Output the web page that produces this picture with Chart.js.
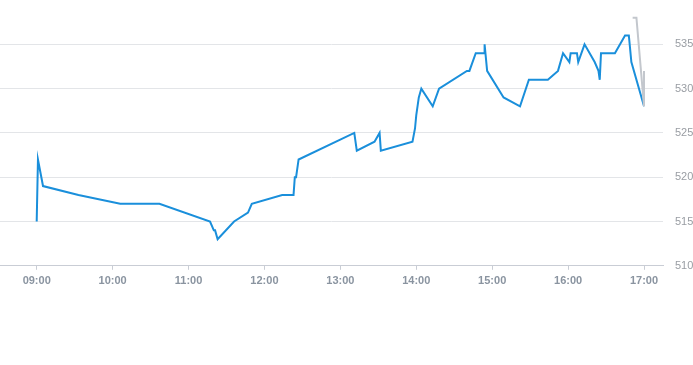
<!DOCTYPE html>
<html lang="en">

<head>
    <meta charset="UTF-8">
    <title>intraday</title>
    <style>
        body {
            margin: 0;
            background: #fff;
        }

        .myChart {
            position: relative;
            width: 693px;
            height: 300px;
        }
    </style>
</head>

<body>
    <div class="myChart">
        <canvas id="myChart"></canvas>
    </div>

    <script src="https://cdn.jsdelivr.net/npm/chart.js"></script>

    <script>
        // price series (time, price)
        const times = ['09:00', '09:01', '09:05', '09:33', '10:06', '10:37', '11:17', '11:20', '11:21', '11:23',
            '11:36', '11:47', '11:50', '12:14', '12:23', '12:24', '12:25', '12:27', '13:11', '13:13',
            '13:27', '13:31', '13:32', '13:57', '13:59', '14:00', '14:02', '14:04', '14:13', '14:18',
            '14:40', '14:42', '14:47', '14:54', '14:54', '14:56', '15:09', '15:22', '15:29', '15:44',
            '15:52', '15:56', '16:01', '16:02', '16:07', '16:08', '16:13', '16:21', '16:24', '16:25',
            '16:26', '16:37', '16:45', '16:48', '16:50', '17:00'];
        const prices = [515, 522, 519, 518, 517, 517, 515, 514, 514, 513,
            515, 516, 517, 518, 518, 520, 520, 522, 525, 523,
            524, 525, 523, 524, 525.5, 527, 529, 530, 528, 530,
            532, 532, 534, 534, 535, 532, 529, 528, 531, 531,
            532, 534, 533, 534, 534, 533, 535, 533, 532, 531,
            534, 534, 536, 536, 533, 528];

        // grey trailing series
        const greyTimes = ['16:51', '16:54', '17:00', '17:00'];
        const greyPrices = [538, 538, 528, 532];

        const hourTicks = ['09:00', '10:00', '11:00', '12:00', '13:00', '14:00', '15:00', '16:00', '17:00'];
        const priceTicks = [510, 515, 520, 525, 530, 535];

        function toMin(t) {
            const p = t.split(':');
            return +p[0] * 60 + +p[1];
        }

        function pad(n) {
            return (n < 10 ? '0' : '') + n;
        }

        function points(ts, vs) {
            return ts.map((t, i) => ({ x: toMin(t), y: vs[i] }));
        }

        const ctx = document.getElementById('myChart').getContext('2d');
        const myChart = new Chart(ctx, {
            type: 'line',
            data: {
                datasets: [{
                    data: points(greyTimes, greyPrices),
                    borderColor: '#c3c7cd',
                    borderWidth: 2,
                    pointRadius: 0,
                    tension: 0
                }, {
                    data: points(times, prices),
                    borderColor: '#1a8fdb',
                    borderWidth: 2,
                    pointRadius: 0,
                    tension: 0
                }]
            },
            options: {
                responsive: true,
                maintainAspectRatio: false,
                animation: false,
                layout: {
                    padding: { top: 0, left: 0, right: 0, bottom: 7 }
                },
                plugins: {
                    legend: { display: false },
                    tooltip: { enabled: false }
                },
                scales: {
                    x: {
                        type: 'linear',
                        min: 511,
                        max: 1035,
                        afterBuildTicks: function (scale) {
                            scale.ticks = hourTicks.map(t => ({ value: toMin(t) }));
                        },
                        afterFit: function (scale) {
                            scale.paddingLeft = 0;
                            scale.paddingRight = 0;
                        },
                        grid: {
                            drawOnChartArea: false,
                            tickLength: 4,
                            color: '#c9cdd5'
                        },
                        border: { color: '#c9cdd5' },
                        ticks: {
                            padding: 5,
                            maxRotation: 0,
                            color: '#8a94a0',
                            font: { family: 'Liberation Sans, Arial, sans-serif', size: 11, weight: 'bold' },
                            callback: function (v) {
                                return pad(Math.floor(v / 60)) + ':' + pad(v % 60);
                            }
                        }
                    },
                    y: {
                        position: 'right',
                        min: 510,
                        max: 540,
                        afterBuildTicks: function (scale) {
                            scale.ticks = priceTicks.map(v => ({ value: v }));
                        },
                        afterFit: function (scale) {
                            scale.paddingTop = 0;
                            scale.paddingBottom = 0;
                            scale.width = 30;
                        },
                        grid: {
                            drawTicks: false,
                            color: '#e3e5e8'
                        },
                        border: { display: false },
                        ticks: {
                            padding: 12,
                            color: '#999da3',
                            font: { family: 'Liberation Sans, Arial, sans-serif', size: 11 }
                        }
                    }
                }
            }
        });
    </script>

</body>

</html>
